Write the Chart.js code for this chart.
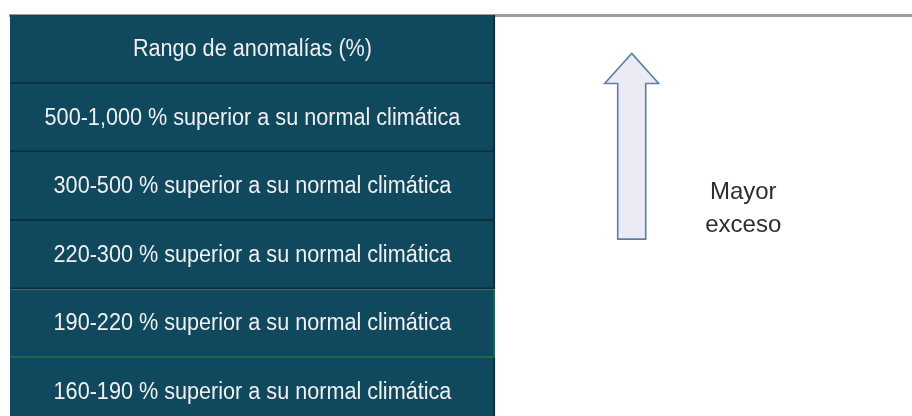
<!DOCTYPE html>
<html>
<head>
<meta charset="utf-8">
<script src="https://cdn.jsdelivr.net/npm/chart.js@4.4.1/dist/chart.umd.min.js"></script>
<style>
  html, body { margin: 0; padding: 0; background: #fff; }
  #wrap { width: 912px; height: 416px; }
</style>
</head>
<body>
<div id="wrap"><canvas id="c"></canvas></div>
<script>
// table rows, top to bottom (header first)
const rowLabels = [
  'Rango de anomalías (%)',
  '500-1,000 % superior a su normal climática',
  '300-500 % superior a su normal climática',
  '220-300 % superior a su normal climática',
  '190-220 % superior a su normal climática',
  '160-190 % superior a su normal climática'
];
const rowCenters = [0.5, 1.5, 2.5, 3.5, 4.5, 5.5];
const rowEdges = [0, 1, 2, 3, 4, 5];
const cellSpan = [0, 1];
const dividerColors = ['#0a2e3b', '#0a2e3b', '#0a2e3b', '#0a2e3b', '#1c6a52', '#0a2e3b'];
const arrowText = ['Mayor', 'exceso'];

const cellFill = '#10485d';

// writes the row label in the middle of each cell (slightly narrowed, like the print)
const cellText = {
  id: 'cellText',
  afterDatasetsDraw(chart) {
    const ctx = chart.ctx;
    const meta = chart.getDatasetMeta(0);
    meta.data.forEach((bar, i) => {
      const { x, base, y } = bar.getProps(['x', 'base', 'y'], true);
      ctx.save();
      ctx.translate((x + base) / 2, y + 7);
      ctx.scale(0.94, 1);
      ctx.fillStyle = '#f0f0f0';
      ctx.font = '23px "Liberation Sans", Arial, sans-serif';
      ctx.textAlign = 'center';
      ctx.textBaseline = 'alphabetic';
      ctx.fillText(rowLabels[i], 0, 0);
      ctx.restore();
    });
  }
};

// hollow up arrow with the caption next to it
const arrowNote = {
  id: 'arrowNote',
  afterDraw(chart) {
    const xs = chart.scales.x, ys = chart.scales.y;
    const ctx = chart.ctx;
    const cx = xs.getPixelForValue(1.282);
    const tip = ys.getPixelForValue(0.56);
    const neck = ys.getPixelForValue(1.0);
    const foot = ys.getPixelForValue(3.27);
    const headW = 27, shaftW = 14;
    ctx.save();
    ctx.beginPath();
    ctx.moveTo(cx, tip);
    ctx.lineTo(cx + headW, neck);
    ctx.lineTo(cx + shaftW, neck);
    ctx.lineTo(cx + shaftW, foot);
    ctx.lineTo(cx - shaftW, foot);
    ctx.lineTo(cx - shaftW, neck);
    ctx.lineTo(cx - headW, neck);
    ctx.closePath();
    ctx.fillStyle = '#ebebf5';
    ctx.fill();
    ctx.strokeStyle = '#5b7fa6';
    ctx.lineWidth = 1.6;
    ctx.stroke();

    ctx.fillStyle = '#2e2e2e';
    ctx.font = '24px "Liberation Sans", Arial, sans-serif';
    ctx.textAlign = 'center';
    ctx.textBaseline = 'alphabetic';
    const tx = xs.getPixelForValue(1.512);
    ctx.fillText(arrowText[0], tx, ys.getPixelForValue(2.69));
    ctx.fillText(arrowText[1], tx, ys.getPixelForValue(3.16));
    ctx.restore();
  }
};

new Chart(document.getElementById('c'), {
  type: 'bar',
  data: {
    datasets: [{
      data: rowCenters.map((y) => ({ x: cellSpan, y })),
      backgroundColor: cellFill,
      borderColor: dividerColors,
      borderWidth: { top: 0, bottom: 2, left: 0, right: 2 },
      borderSkipped: false,
      barPercentage: 1,
      categoryPercentage: 1
    }]
  },
  options: {
    indexAxis: 'y',
    responsive: true,
    maintainAspectRatio: false,
    animation: false,
    layout: { padding: { top: 15, left: 10, right: 0, bottom: 0 } },
    plugins: {
      legend: { display: false },
      tooltip: { enabled: false }
    },
    scales: {
      x: {
        type: 'linear',
        position: 'top',
        min: 0,
        max: 1.86,
        ticks: { display: false },
        grid: { display: false, drawTicks: false },
        border: { display: true, color: '#9d9d9d', width: 3 }
      },
      y: {
        type: 'linear',
        reverse: true,
        offset: false,
        min: 0,
        max: 5.85,
        display: false,
        // keep only the row edges as ticks so every row gets its full height
        afterBuildTicks(axis) {
          axis.ticks = rowEdges.map((value) => ({ value }));
        }
      }
    }
  },
  plugins: [cellText, arrowNote]
});
</script>
</body>
</html>
